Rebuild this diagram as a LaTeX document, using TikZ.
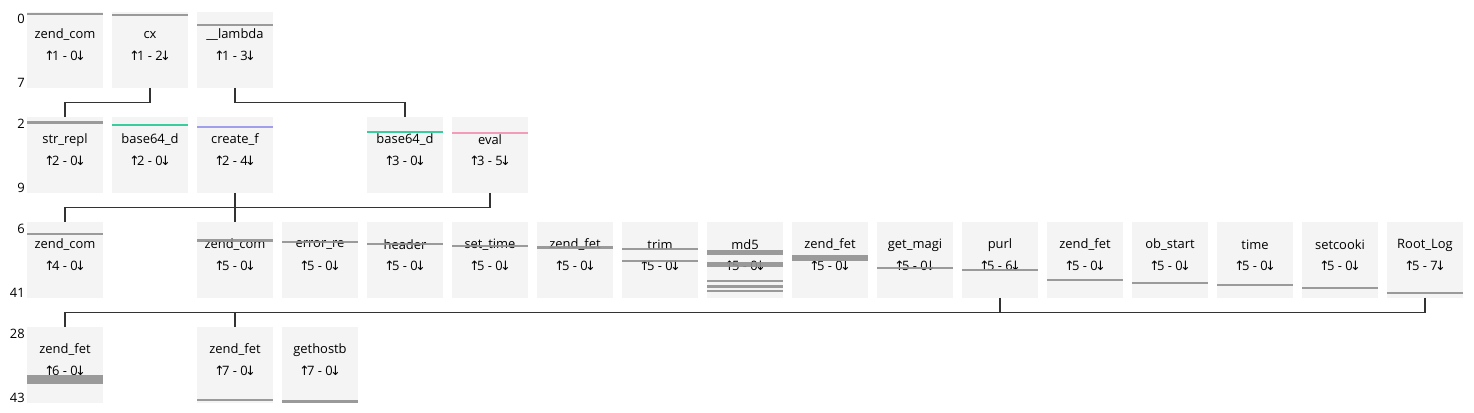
\documentclass[tikz,border=0pt]{standalone}
\usepackage{fontspec}
\setmainfont{Open Sans}
\newfontfamily\arrfont{DejaVu Sans}
\usetikzlibrary{calc}
\definecolor{boxc}{RGB}{244,244,244}
\definecolor{barc}{RGB}{145,145,145}
\definecolor{greenc}{RGB}{38,200,150}
\definecolor{purplec}{RGB}{150,150,235}
\definecolor{pinkc}{RGB}{245,145,180}
\definecolor{linec}{RGB}{51,51,51}
\newcommand{\up}{\makebox[0.42em][c]{\arrfont ↑}}
\newcommand{\dn}{\makebox[0.42em][c]{\arrfont ↓}}
\newcommand{\ubox}[5]{%
  \node[ubx] (#1) at ({65+85*#2},{50+105*#3}) {};
  \node[txt] (#1-n) at ($(#1.north)+(0,23)$) {#4};
  \node[txt] (#1-c) at ($(#1.north)+(0,44)$) {\up#5\dn};
}
\newcommand{\hbarr}[4][barc]{%
  \fill[#1,opacity=0.9] ($(#2.north west)+(0,#3)$) rectangle ($(#2.north east)+(0,#4)$);
}
\begin{document}
\begin{tikzpicture}[x=0.75pt,y=-0.75pt,
  ubx/.style={fill=boxc,draw=none,minimum width=57pt,minimum height=57pt,inner sep=0pt,outer sep=0pt},
  txt/.style={inner sep=0pt,font=\fontsize{9.7pt}{11pt}\selectfont,text=black},
  lvl/.style={inner sep=0pt,anchor=east,font=\fontsize{9.7pt}{11pt}\selectfont},
  conn/.style={draw=linec,line width=1.1pt}]
\useasboundingbox (0,0) rectangle (1474,413);
% row 0
\ubox{a0}{0}{0}{zend\_com}{1 - 0}
\ubox{a1}{1}{0}{cx}{1 - 2}
\ubox{a2}{2}{0}{\_\_lambda}{1 - 3}
% row 1
\ubox{b0}{0}{1}{str\_repl}{2 - 0}
\ubox{b1}{1}{1}{base64\_d}{2 - 0}
\ubox{b2}{2}{1}{create\_f}{2 - 4}
\ubox{b4}{4}{1}{base64\_d}{3 - 0}
\ubox{b5}{5}{1}{eval}{3 - 5}
% row 2
\ubox{c0}{0}{2}{zend\_com}{4 - 0}
\ubox{c2}{2}{2}{zend\_com}{5 - 0}
\ubox{c3}{3}{2}{error\_re}{5 - 0}
\ubox{c4}{4}{2}{header}{5 - 0}
\ubox{c5}{5}{2}{set\_time}{5 - 0}
\ubox{c6}{6}{2}{zend\_fet}{5 - 0}
\ubox{c7}{7}{2}{trim}{5 - 0}
\ubox{c8}{8}{2}{md5}{5 - 0}
\ubox{c9}{9}{2}{zend\_fet}{5 - 0}
\ubox{c10}{10}{2}{get\_magi}{5 - 0}
\ubox{c11}{11}{2}{purl}{5 - 6}
\ubox{c12}{12}{2}{zend\_fet}{5 - 0}
\ubox{c13}{13}{2}{ob\_start}{5 - 0}
\ubox{c14}{14}{2}{time}{5 - 0}
\ubox{c15}{15}{2}{setcooki}{5 - 0}
\ubox{c16}{16}{2}{Root\_Log}{5 - 7}
% row 3
\ubox{d0}{0}{3}{zend\_fet}{6 - 0}
\ubox{d2}{2}{3}{zend\_fet}{7 - 0}
\ubox{d3}{3}{3}{gethostb}{7 - 0}
% bars
\hbarr{a0}{1}{3}
\hbarr{a1}{2}{4}
\hbarr{a2}{12}{14}
\hbarr{b0}{4}{7}
\hbarr[greenc]{b1}{7}{9}
\hbarr[purplec]{b2}{9}{11}
\hbarr[greenc]{b4}{14}{16}
\hbarr[pinkc]{b5}{15.3}{17.3}
\hbarr{c0}{10.7}{12.7}
\hbarr{c2}{17.3}{19.7}
\hbarr{c3}{19}{21.3}
\hbarr{c4}{21}{23}
\hbarr{c5}{22.7}{24.7}
\hbarr{c6}{24}{26.7}
\hbarr{c7}{26}{28.3}
\hbarr{c7}{38}{40.3}
\hbarr{c8}{28}{33}
\hbarr{c8}{40}{45}
\hbarr{c8}{58}{60.3}
\hbarr{c8}{63.5}{65.7}
\hbarr{c8}{68}{70.3}
\hbarr{c9}{32.7}{38.7}
\hbarr{c10}{45}{47.3}
\hbarr{c11}{46.7}{49}
\hbarr{c12}{56.7}{59}
\hbarr{c13}{59.7}{62.3}
\hbarr{c14}{61.7}{64}
\hbarr{c15}{65}{67.3}
\hbarr{c16}{70}{72.3}
\hbarr{d0}{47.7}{57}
\hbarr{d2}{72}{74.3}
\hbarr{d3}{73.3}{75.7}
% level labels
\node[lvl] (l0a) at (25,19) {0};
\node[lvl] (l0b) at (25,83) {7};
\node[lvl] (l1a) at (25,124) {2};
\node[lvl] (l1b) at (25,188) {9};
\node[lvl] (l2a) at (25,229) {6};
\node[lvl] (l2b) at (25,293) {41};
\node[lvl] (l3a) at (25,334) {28};
\node[lvl] (l3b) at (25,398) {43};
% connectors
\coordinate (m1) at (0,102.5);
\coordinate (m2) at (0,207.5);
\coordinate (m3) at (0,312.5);
\draw[conn] (a1.south) -- (a1.south |- m1) -| (b0.north);
\draw[conn] (a2.south) -- (a2.south |- m1) -| (b4.north);
\draw[conn] (b5.south) -- (b5.south |- m2) -| (c0.north);
\draw[conn] (b2.south) -- (c2.north);
\draw[conn] (c16.south) -- (c16.south |- m3) -| (d0.north);
\draw[conn] (c11.south) -- (c11.south |- m3);
\draw[conn] (d2.north |- m3) -- (d2.north);
\end{tikzpicture}
\end{document}
